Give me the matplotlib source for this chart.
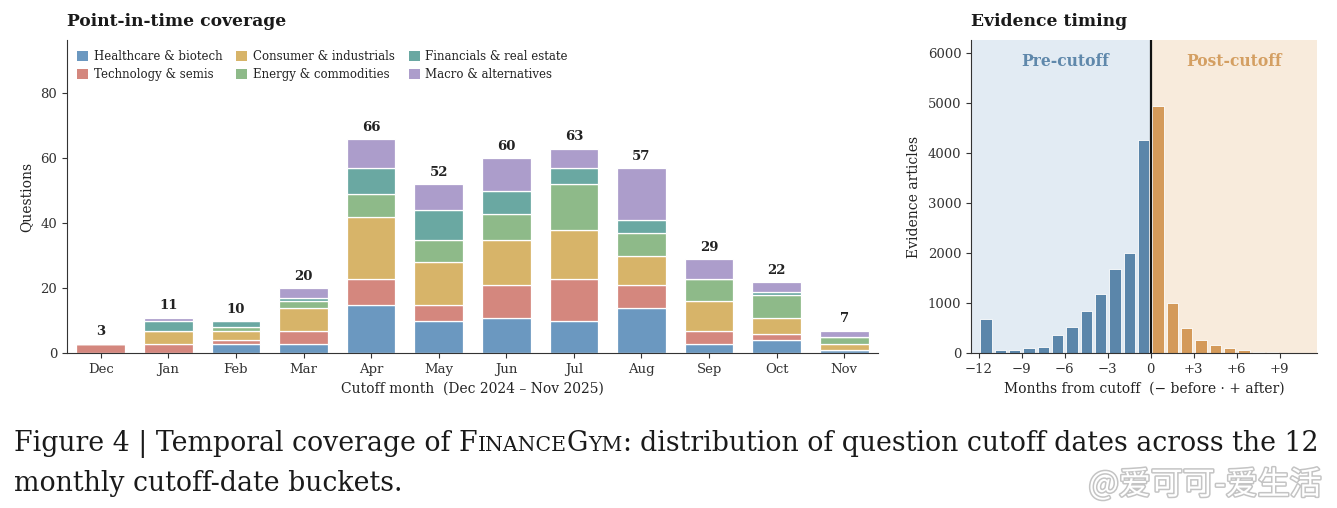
import numpy as np
import matplotlib
matplotlib.use("Agg")
import matplotlib.pyplot as plt
import matplotlib.patheffects as pe
from matplotlib.patches import Patch

plt.rcParams['font.family'] = ['DejaVu Serif']
plt.rcParams['text.color'] = '#222222'
plt.rcParams['axes.labelcolor'] = '#222222'
plt.rcParams['xtick.color'] = '#333333'
plt.rcParams['ytick.color'] = '#333333'
plt.rcParams['axes.edgecolor'] = '#333333'

# ---- left panel data: questions per cutoff month, by sector ----
months = ['Dec', 'Jan', 'Feb', 'Mar', 'Apr', 'May', 'Jun', 'Jul', 'Aug', 'Sep', 'Oct', 'Nov']
sectors = ['Healthcare & biotech', 'Technology & semis', 'Consumer & industrials',
           'Energy & commodities', 'Financials & real estate', 'Macro & alternatives']
healthcare = [0, 0, 3, 3, 15, 10, 11, 10, 14, 3, 4, 1]
technology = [3, 3, 1, 4, 8, 5, 10, 13, 7, 4, 2, 0]
consumer = [0, 4, 3, 7, 19, 13, 14, 15, 9, 9, 5, 2]
energy = [0, 0, 1, 2, 7, 7, 8, 14, 7, 7, 7, 2]
financials = [0, 3, 2, 1, 8, 9, 7, 5, 4, 0, 1, 0]
macro = [0, 1, 0, 3, 9, 8, 10, 6, 16, 6, 3, 2]
sector_colors = ['#6b98c0', '#d4877e', '#d7b469', '#8eba89', '#6aa8a2', '#ac9dcb']

# ---- right panel data: evidence articles by month offset from cutoff ----
offsets_pre = [-11.5, -10.5, -9.5, -8.5, -7.5, -6.5, -5.5, -4.5, -3.5, -2.5, -1.5, -0.5]
articles_pre = [690, 65, 62, 100, 125, 370, 520, 850, 1190, 1690, 2010, 4270]
offsets_post = [0.5, 1.5, 2.5, 3.5, 4.5, 5.5, 6.5, 7.5, 8.5, 9.5, 10.5, 11.5]
articles_post = [4950, 1000, 510, 265, 165, 100, 65, 25, 20, 5, 3, 15]
offset_ticks = [-12, -9, -6, -3, 0, 3, 6, 9]
offset_ticklabels = ['\u221212', '\u22129', '\u22126', '\u22123', '0', '+3', '+6', '+9']

fig = plt.figure(figsize=(13.37, 5.08), dpi=100)
W, H = 1337, 508

# ---------------- left: stacked bars ----------------
ax = fig.add_axes([67 / W, 1 - 353.3 / H, (878 - 67) / W, (353.3 - 40) / H])
x = np.arange(len(months))
series = [healthcare, technology, consumer, energy, financials, macro]
bottom = np.zeros(len(months))
for name, vals, col in zip(sectors, series, sector_colors):
    vals = np.array(vals, dtype=float)
    ax.bar(x, vals, 0.72, bottom=bottom, color=col, edgecolor='white', linewidth=0.9,
           label=name, zorder=2)
    bottom += vals
for xi, tot in zip(x, bottom):
    ax.text(xi, tot + 1.6, f'{int(tot)}', ha='center', va='bottom',
            fontsize=9.5, fontweight='bold', color='#222222')

ax.set_xlim(-0.5, 11.5)
ax.set_ylim(0, 96.4)
ax.set_xticks(x)
ax.set_xticklabels(months, fontsize=9.5)
ax.set_yticks([0, 20, 40, 60, 80])
ax.tick_params(axis='y', labelsize=9.5, length=3.5)
ax.tick_params(axis='x', length=3.5)
ax.set_ylabel('Questions', fontsize=10, labelpad=5)
ax.set_xlabel('Cutoff month  (Dec 2024 \u2013 Nov 2025)', fontsize=10, labelpad=4)
ax.spines['top'].set_visible(False)
ax.spines['right'].set_visible(False)
handles = [Patch(facecolor=c, edgecolor='none') for c in sector_colors]
ax.legend(handles, sectors, ncol=3, loc='upper left', frameon=False, fontsize=8.5,
          handlelength=0.9, handleheight=0.9, handletextpad=0.5, columnspacing=1.2,
          labelspacing=0.42, borderaxespad=0.45, bbox_to_anchor=(0.0, 1.0))

fig.text(67 / W, 1 - 21 / H, 'Point-in-time coverage', fontsize=12.3,
         fontweight='bold', va='center', ha='left', color='#1a1a1a')

# ---------------- right: evidence timing histogram ----------------
ax2 = fig.add_axes([971 / W, 1 - 353.3 / H, (1317 - 971) / W, (353.3 - 40) / H])
xmin, xmax = -12.55, 11.6
ax2.axvspan(xmin, 0, color='#e2ebf3', zorder=0, linewidth=0)
ax2.axvspan(0, xmax, color='#f8ebdc', zorder=0, linewidth=0)
ax2.bar(offsets_pre, articles_pre, 0.78, color='#5b86aa', edgecolor='white',
        linewidth=0.6, zorder=2)
ax2.bar(offsets_post, articles_post, 0.78, color='#d49a5a', edgecolor='white',
        linewidth=0.6, zorder=2)
ax2.axvline(0, color='#111111', linewidth=1.6, zorder=3)
ax2.text(-6, 5830, 'Pre-cutoff', ha='center', va='center', fontsize=11.2,
         fontweight='bold', color='#5f88ab')
ax2.text(5.8, 5830, 'Post-cutoff', ha='center', va='center', fontsize=11.2,
         fontweight='bold', color='#d49f62')
ax2.set_xlim(xmin, xmax)
ax2.set_ylim(0, 6270)
ax2.set_xticks(offset_ticks)
ax2.set_xticklabels(offset_ticklabels, fontsize=9.5)
ax2.set_yticks(np.arange(0, 6001, 1000))
ax2.tick_params(axis='y', labelsize=9.5, length=3.5)
ax2.tick_params(axis='x', length=3.5)
ax2.set_ylabel('Evidence articles', fontsize=10, labelpad=5)
ax2.set_xlabel('Months from cutoff  (\u2212 before \u00b7 + after)', fontsize=10, labelpad=4)
ax2.spines['top'].set_visible(False)
ax2.spines['right'].set_visible(False)
fig.text(971 / W, 1 - 21 / H, 'Evidence timing', fontsize=12.3,
         fontweight='bold', va='center', ha='left', color='#1a1a1a')

# ---------------- caption with small caps ----------------
renderer = fig.canvas.get_renderer()
cap_font = 'DejaVu Serif'


def text_width(s, size):
    t = fig.text(0, 0, s, fontsize=size, family=cap_font)
    w = t.get_window_extent(renderer).width
    t.remove()
    return w


def runs_width(runs, big):
    small = big * 0.76
    total = 0.0
    for s, kind in runs:
        size = big if kind == 'b' else small
        if s == ' ':
            total += text_width('a a', size) - text_width('aa', size)
        else:
            total += text_width(s, size)
    return total


def draw_runs(x0, y0, runs, big):
    small = big * 0.76
    xp = x0
    for s, kind in runs:
        size = big if kind == 'b' else small
        if s == ' ':
            xp += text_width('a a', size) - text_width('aa', size)
            continue
        t = fig.text(xp / W, 1 - y0 / H, s, fontsize=size, family=cap_font,
                     ha='left', va='baseline', color='#1a1a1a')
        xp += t.get_window_extent(renderer).width


line1 = [('Figure 4 | Temporal coverage of', 'b'), (' ', 'b'),
         ('F', 'b'), ('INANCE', 's'), ('G', 'b'), ('YM', 's'),
         (':', 'b'), (' ', 'b'),
         ('distribution of question cutoff dates across the 12', 'b')]
line2 = [('monthly cutoff-date buckets.', 'b')]
cap_size = 17 * (1318 - 14) / runs_width(line1, 17)
draw_runs(14, 451, line1, cap_size)
draw_runs(14, 491, line2, cap_size)

wm = fig.text(1322 / W, 1 - 485 / H, '@\u7231\u53ef\u53ef-\u7231\u751f\u6d3b',
              fontsize=23, family=['Noto Sans CJK SC', 'DejaVu Sans'], ha='right',
              va='center', color='white')
wm.set_path_effects([pe.withStroke(linewidth=2.2, foreground='#c4c4c4')])

fig.savefig('out.png', dpi=100)
